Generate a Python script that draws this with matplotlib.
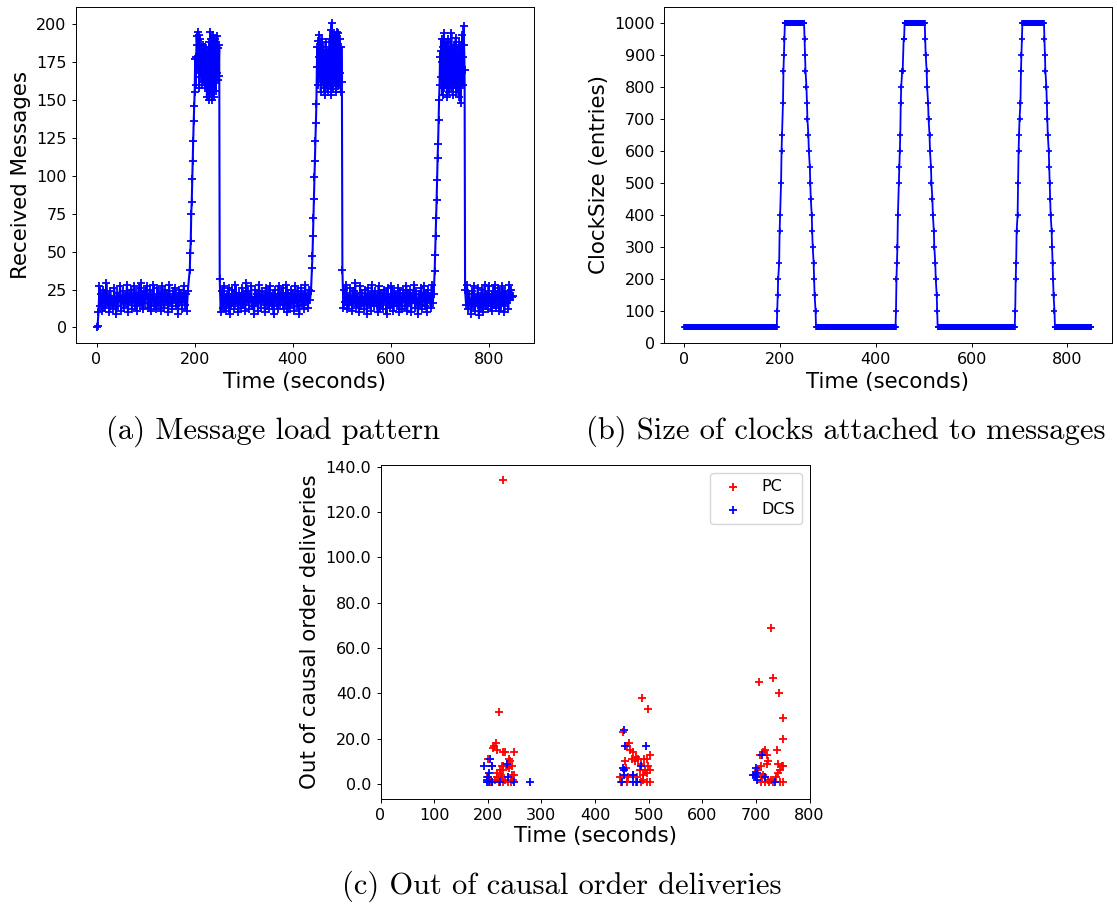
import numpy as np
import matplotlib.pyplot as plt
from matplotlib.ticker import FormatStrFormatter

W, H = 1117, 908

# ---- (a) received messages per second ----
load_head = [0, 1]                                   # t = 0, 2
load_base1 = [10, 27, 14, 22, 11, 25, 18, 13, 29, 16, 21, 10, 24, 15, 19, 12, 26, 17, 9, 23,
              14, 20, 27, 11, 18, 24, 13, 21, 16, 28, 10, 22, 17, 25, 12, 19, 27, 14, 23, 11,
              20, 26, 15, 29, 18, 12, 24, 16, 21, 27, 13, 19, 25, 11, 22, 17, 28, 14, 20, 12,
              26, 18, 15, 23, 11, 27, 19, 13, 25, 17, 22, 10, 28, 16, 20, 12, 24, 18, 26, 14,
              21, 9, 25, 17, 23, 12, 19, 27, 15, 22, 11, 24]   # t = 4.. every 2 s
load_ramp1 = [38, 49, 57, 75, 83, 98, 110, 123, 136, 146, 155, 177]   # t = 190..201
load_peak1 = [160, 178, 192, 186, 195, 170, 193, 158, 190, 176, 187, 165, 183, 160, 178, 186,
              162, 180, 171, 158, 185, 166, 177, 152, 183, 160, 172, 150, 188, 155, 195, 163,
              190, 150, 184, 170, 193, 152, 181, 164, 190, 156, 186, 168, 192, 163, 184, 166,
              186]                                   # t = 202..250
load_base2 = [32, 10, 24, 13, 27, 18, 11, 22, 15, 26, 9, 20, 14, 25, 17, 12, 28, 16, 21, 10,
              23, 19, 13, 26, 15, 22, 11, 29, 17, 24, 12, 20, 27, 14, 18, 9, 25, 16, 22, 11,
              28, 19, 13, 24, 17, 21, 10, 26, 15, 23, 12, 27, 18, 14, 22, 9, 25, 17, 20, 12,
              27, 15, 23, 17, 26, 12, 21, 15, 28, 10, 23, 18, 13, 25, 16, 22, 11, 27, 19, 14,
              24, 9, 20, 26, 15, 22, 12, 28, 17, 21, 13, 25, 18, 24]  # t = 251.. every 2 s
load_ramp2 = [39, 47, 60, 72, 85, 99, 110, 123, 135, 147]            # t = 439..448
load_peak2 = [172, 185, 160, 189, 178, 193, 165, 181, 155, 176, 190, 162, 185, 170, 158, 180,
              153, 174, 188, 160, 178, 166, 155, 183, 171, 160, 190, 164, 196, 153, 201, 168,
              185, 157, 178, 193, 162, 188, 170, 155, 195, 166, 181, 159, 194, 175, 160, 190,
              168, 155, 185, 162]                    # t = 449..500
load_base3 = [38, 13, 25, 17, 28, 12, 21, 15, 26, 19, 11, 24, 16, 29, 13, 22, 18, 10, 27, 14,
              23, 17, 12, 25, 20, 9, 26, 15, 22, 11, 28, 18, 14, 24, 16, 21, 10, 27, 13, 23,
              19, 12, 25, 17, 22, 9, 26, 15, 20, 13, 27, 18, 11, 24, 16, 21, 14, 26, 10, 23,
              17, 12, 25, 20, 14, 27, 11, 23, 16, 25, 10, 21, 18, 28, 13, 24, 17, 9, 22, 15,
              26, 12, 19, 27, 14, 23, 10, 25, 18, 21, 13, 28, 16, 22]  # t = 501.. every 2 s
load_ramp3 = [37, 48, 60, 72, 84, 97, 112, 121, 137, 150]            # t = 689..698
load_peak3 = [160, 178, 182, 165, 190, 175, 153, 185, 168, 194, 158, 180, 172, 160, 188, 152,
              176, 165, 190, 170, 155, 183, 162, 175, 194, 158, 180, 153, 171, 186, 160, 178,
              165, 191, 155, 172, 183, 160, 176, 152, 188, 166, 180, 148, 185, 170, 193, 160,
              178, 199, 186, 170]                    # t = 699..750
load_base4 = [25, 15, 28, 12, 22, 17, 9, 24, 14, 27, 11, 20, 16, 26, 8, 21, 13, 25, 10, 18,
              28, 14, 22, 12, 27, 16, 20, 11, 24, 15, 28, 13, 22, 17, 26, 11, 23, 14, 27, 19,
              10, 24, 16, 21, 12, 28, 18, 25, 20, 21]  # t = 751.. every 2 s

# ---- (b) clock size ----
clock_low, clock_high = 50, 1000
up1_t = [194, 195, 196, 198, 199, 200, 202, 203, 204, 206, 207, 208, 209]
up1_v = [100, 150, 200, 250, 350, 400, 500, 600, 650, 750, 850, 900, 950]
up2_t = [442, 443, 444, 445, 446, 448, 449, 450, 451, 452, 453, 455, 456, 458, 459]
up2_v = [100, 200, 250, 300, 400, 500, 550, 600, 650, 750, 800, 850, 850, 950, 950]
up3_t = [691, 692, 693, 694, 696, 697, 698, 699, 700, 702, 703, 704, 705]
up3_v = [100, 200, 250, 350, 400, 500, 600, 650, 700, 750, 850, 900, 950]
down_v = [950, 900, 850, 800, 750, 700, 650, 600, 550, 500, 450, 400, 350, 300, 250, 200, 150, 100]
down1_t = [251, 252, 253, 255, 256, 257, 259, 260, 262, 263, 264, 266, 267, 268, 270, 271, 272, 274]
down2_t = [503, 504, 506, 507, 509, 510, 512, 513, 515, 516, 518, 519, 521, 522, 524, 525, 527, 528]
down3_t = [752, 753, 754, 756, 757, 758, 759, 761, 762, 763, 764, 765, 767, 768, 769, 770, 771, 773]
# flat stretches (first, last second)
low_spans = [(0, 193), (275, 441), (529, 690), (774, 850)]
high_spans = [(210, 250), (460, 502), (706, 751)]

# ---- (c) out of causal order deliveries ----
pc_t = [229, 221, 212, 215, 209, 217, 229, 232, 249, 240, 241, 200, 226, 229, 236, 245, 207,
        217, 224, 229, 240, 246, 249, 199, 204, 207, 220, 229, 238, 243, 218, 227, 233, 247,
        213, 223,
        487, 499, 452, 464, 460, 466, 470, 476, 480, 502, 468, 491, 496, 474, 455, 499, 502,
        493, 483, 447, 462, 471, 490, 489, 496, 448, 460, 476, 486, 496, 502, 478, 458, 485,
        728, 706, 732, 743, 751, 750, 739, 717, 713, 707, 721, 723, 720, 742, 748, 750, 745,
        742, 709, 704, 713, 722, 728, 709, 717, 725, 732, 751, 711, 737, 745]
pc_v = [134, 32, 17, 18, 16, 15, 14, 14, 14, 11, 10, 11, 8, 8, 8, 8, 8,
        5, 4, 6, 7, 4, 4, 3, 1, 1, 1, 1, 1, 1, 3, 3, 2, 2,
        2, 6,
        38, 33, 23, 18, 17, 15, 14, 12, 11, 13, 11, 11, 11, 10, 10, 8, 6,
        6, 6, 3, 3, 4, 4, 2, 5, 1, 1, 1, 1, 1, 1, 3, 7, 9,
        69, 45, 47, 40, 29, 20, 15, 15, 14, 13, 13, 10, 9, 9, 8, 8, 6,
        5, 8, 6, 4, 2, 2, 1, 1, 1, 1, 1, 3, 3, 1]
dcs_t = [193, 205, 207, 203, 201, 198, 202, 207, 223, 235, 238, 249, 278, 199,
         454, 456, 495, 452, 454, 486, 454, 470, 450, 470, 478,
         711, 701, 702, 695, 700, 702, 717, 735, 698]
dcs_v = [8, 11, 8, 5, 3, 1, 1, 1, 1, 9, 3, 1, 1, 2,
         24, 17, 17, 7, 6, 8, 4, 4, 1, 1, 1,
         13, 7, 5, 4, 3, 2, 3, 1, 4]


def seg(start, step, vals):
    return start + step * np.arange(len(vals))


load_t = np.concatenate([seg(0, 2, load_head), seg(4, 2, load_base1), seg(190, 1, load_ramp1),
                         seg(202, 1, load_peak1), seg(251, 2, load_base2), seg(439, 1, load_ramp2),
                         seg(449, 1, load_peak2), seg(501, 2, load_base3), seg(689, 1, load_ramp3),
                         seg(699, 1, load_peak3), seg(751, 2, load_base4)])
load_v = np.concatenate([load_head, load_base1, load_ramp1, load_peak1, load_base2, load_ramp2,
                         load_peak2, load_base3, load_ramp3, load_peak3, load_base4])

parts_t, parts_v = [], []
ups = [(up1_t, up1_v), (up2_t, up2_v), (up3_t, up3_v)]
downs = [down1_t, down2_t, down3_t]
for i in range(3):
    a, b = low_spans[i]
    parts_t.append(np.arange(a, b + 1)); parts_v.append(np.full(b - a + 1, clock_low))
    parts_t.append(np.array(ups[i][0])); parts_v.append(np.array(ups[i][1]))
    a, b = high_spans[i]
    parts_t.append(np.arange(a, b + 1)); parts_v.append(np.full(b - a + 1, clock_high))
    parts_t.append(np.array(downs[i])); parts_v.append(np.array(down_v))
a, b = low_spans[3]
parts_t.append(np.arange(a, b + 1)); parts_v.append(np.full(b - a + 1, clock_low))
clock_t = np.concatenate(parts_t)
clock_v = np.concatenate(parts_v)

plt.rcParams['xtick.labelsize'] = 11.5
plt.rcParams['ytick.labelsize'] = 11.5
plt.rcParams['axes.labelsize'] = 15.4
plt.rcParams['axes.linewidth'] = 0.7
plt.rcParams['xtick.major.width'] = 0.7
plt.rcParams['ytick.major.width'] = 0.7
plt.rcParams['xtick.major.size'] = 3
plt.rcParams['ytick.major.size'] = 3

fig = plt.figure(figsize=(W / 100, H / 100), dpi=100)


def box(l, r, t, b):
    return [l / W, 1 - b / H, (r - l) / W, (b - t) / H]


ax1 = fig.add_axes(box(75.7, 534, 7.3, 342.7))
ax1.plot(load_t, load_v, color='blue', marker='+', lw=1.5, ms=5.5, mew=1.3)
ax1.set_yticks(range(0, 201, 25))
ax1.set_xticks(range(0, 801, 200))
ax1.set_xlabel('Time (seconds)')
ax1.set_ylabel('Received Messages')

ax2 = fig.add_axes(box(664, 1111.7, 7.3, 342.7))
ax2.plot(clock_t, clock_v, color='blue', marker='+', lw=1.3, ms=5, mew=1.2)
ax2.set_ylim(bottom=0)
ax2.set_yticks(range(0, 1001, 100))
ax2.set_xticks(range(0, 801, 200))
ax2.set_xlabel('Time (seconds)')
ax2.set_ylabel('ClockSize (entries)')

ax3 = fig.add_axes(box(380.5, 809.6, 465, 799.3))
ax3.scatter(pc_t, pc_v, marker='+', color='red', s=34, linewidths=1.3, label='PC')
ax3.scatter(dcs_t, dcs_v, marker='+', color='blue', s=34, linewidths=1.3, label='DCS')
ax3.set_xlim(0, 800)
ax3.set_ylim(-6.7, 140.7)
ax3.set_xticks(range(0, 801, 100))
ax3.set_yticks(range(0, 141, 20))
ax3.yaxis.set_major_formatter(FormatStrFormatter('%.1f'))
ax3.set_xlabel('Time (seconds)', labelpad=2)
ax3.set_ylabel('Out of causal order deliveries')
ax3.legend(loc='upper right', fontsize=11.5)

cap = dict(fontfamily='cmr10', fontsize=22, ha='center', va='baseline')
fig.text(273 / W, 1 - 439 / H, '(a) Message load pattern', **cap)
fig.text(846 / W, 1 - 439 / H, '(b) Size of clocks attached to messages', **cap)
fig.text(562 / W, 1 - 894 / H, '(c) Out of causal order deliveries', **cap)

fig.savefig('out.png', dpi=100)
